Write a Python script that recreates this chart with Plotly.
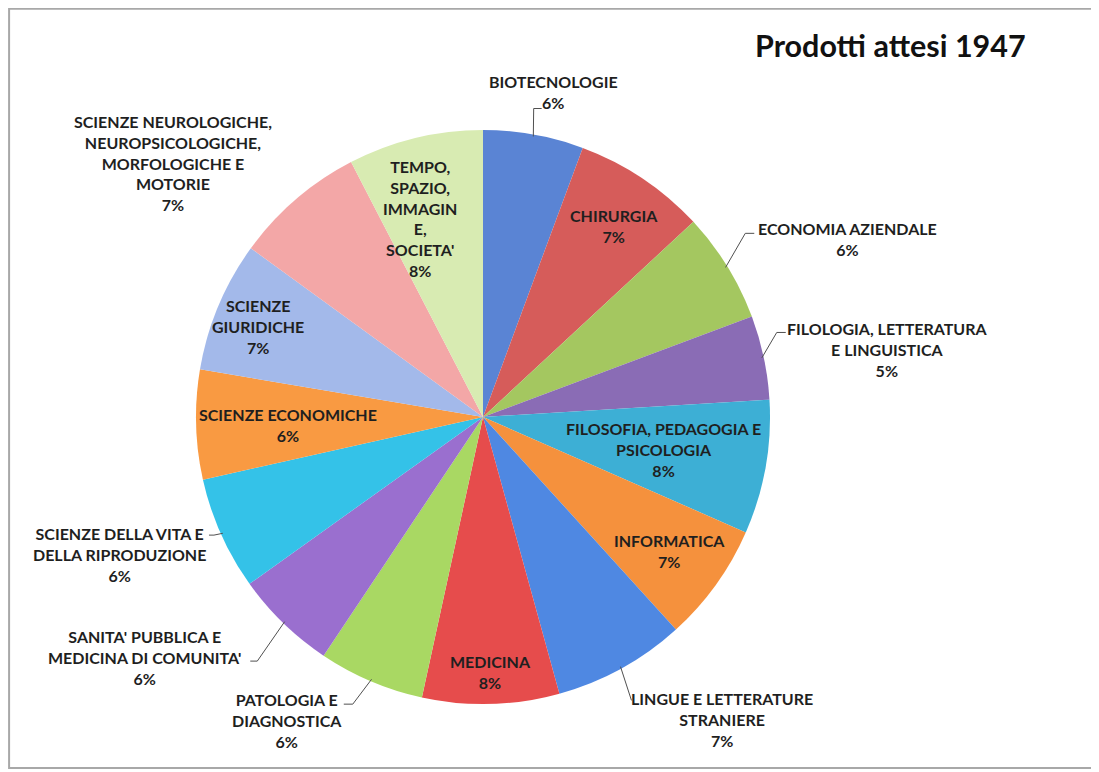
import math
import plotly.graph_objects as go

# ---- data ----
categories = [
    "BIOTECNOLOGIE", "CHIRURGIA", "ECONOMIA AZIENDALE",
    "FILOLOGIA, LETTERATURA E LINGUISTICA", "FILOSOFIA, PEDAGOGIA E PSICOLOGIA",
    "INFORMATICA", "LINGUE E LETTERATURE STRANIERE", "MEDICINA",
    "PATOLOGIA E DIAGNOSTICA", "SANITA' PUBBLICA E MEDICINA DI COMUNITA'",
    "SCIENZE DELLA VITA E DELLA RIPRODUZIONE", "SCIENZE ECONOMICHE",
    "SCIENZE GIURIDICHE", "SCIENZE NEUROLOGICHE, NEUROPSICOLOGICHE, MORFOLOGICHE E MOTORIE",
    "TEMPO, SPAZIO, IMMAGINE, SOCIETA'",
]
values = [110, 145, 121, 92, 147, 130, 145, 150, 116, 112, 124, 120, 143, 144, 148]
wrapped_labels = [
    "BIOTECNOLOGIE", "CHIRURGIA", "ECONOMIA AZIENDALE",
    "FILOLOGIA, LETTERATURA<br>E LINGUISTICA", "FILOSOFIA, PEDAGOGIA E<br>PSICOLOGIA",
    "INFORMATICA", "LINGUE E LETTERATURE<br>STRANIERE", "MEDICINA",
    "PATOLOGIA E<br>DIAGNOSTICA", "SANITA' PUBBLICA E<br>MEDICINA DI COMUNITA'",
    "SCIENZE DELLA VITA E<br>DELLA RIPRODUZIONE", "SCIENZE ECONOMICHE",
    "SCIENZE<br>GIURIDICHE", "SCIENZE NEUROLOGICHE,<br>NEUROPSICOLOGICHE,<br>MORFOLOGICHE E<br>MOTORIE",
    "TEMPO,<br>SPAZIO,<br>IMMAGIN<br>E,<br>SOCIETA'",
]
title_text = "Prodotti attesi 1947"

# ---- style ----
colors = ["#5A84D4", "#D65C5A", "#A4C760", "#8A6CB5", "#3DAFD5", "#F5913D",
          "#4F88E2", "#E64C4C", "#A9D863", "#9A6FCF", "#34C2E8", "#F99A42",
          "#A3B9EA", "#F3A7A7", "#D8EBB2"]
# label placement:
#   ("in", radius factor, dx, dy)
#   ("out", text dx, text dy, leader) with leader = (elbow dx, elbow dy, tick length) or None
placement = [
    ("out", 20, -43, (0, -26, 8)), ("in", 0.81, 2, 2), ("out", 120, -27, (18, -33, 9)),
    ("out", 124, -8, (13, -25, 9)), ("in", 0.64, 0, 0), ("in", 0.80, 0, 0),
    ("out", 101, 51, (10, 32, 0)), ("in", 0.89, 0, 0), ("out", -84, 39, (-18, 23, -9)),
    ("out", -138, 34, (-26, 38, -7)), ("out", -101, 20, (-7, 1, -5)), ("in", 0.68, 0, 3),
    ("in", 0.85, 0, 4), ("out", -123, -36, None), ("in", 0.72, -14, 2),
]

OFF = 8                      # page body margin
W, H = 1099 - OFF, 772 - OFF
CX, CY, R = 483 - OFF, 417 - OFF, 287  # pie centre/radius in figure px
font_family = "Lato, 'Open Sans', sans-serif"
text_color = "#1f1f1f"
leader_color = "#505050"


def px2paper(x, y):
    return x / W, 1 - y / H


fig = go.Figure(go.Pie(
    labels=categories, values=values, sort=False, direction="clockwise",
    rotation=0, marker=dict(colors=colors, line=dict(width=0)),
    textinfo="none", hoverinfo="label+percent", showlegend=False,
    domain=dict(x=[(CX - R) / W, (CX + R) / W], y=[1 - (CY + R) / H, 1 - (CY - R) / H]),
))

total = sum(values)
cum = 0
annotations = []
shapes = []
for lab, v, pl in zip(wrapped_labels, values, placement):
    mid = (cum + v / 2) / total * 2 * math.pi
    cum += v
    pct = round(v / total * 100)
    text = f"<b>{lab}<br>{pct}%</b>"
    s, c = math.sin(mid), math.cos(mid)
    base = dict(xref="paper", yref="paper", text=text, align="center",
                xanchor="center", yanchor="middle", showarrow=False)
    if pl[0] == "in":
        x, y = px2paper(CX + pl[1] * R * s + pl[2], CY - pl[1] * R * c + pl[3])
        annotations.append(dict(base, x=x, y=y))
    else:
        ex, ey = CX + R * s, CY - R * c
        x, y = px2paper(ex, ey)
        annotations.append(dict(base, x=x, y=y, xshift=pl[1], yshift=-pl[2]))
        if pl[3] is not None:
            ex0, ey0 = CX + (R - 2) * s, CY - (R - 2) * c
            bx, by = ex + pl[3][0], ey + pl[3][1]
            tx_, ty_ = bx + pl[3][2], by
            pts = [px2paper(ex0, ey0), px2paper(bx, by), px2paper(tx_, ty_)]
            path = "M {:.5f} {:.5f} L {:.5f} {:.5f} L {:.5f} {:.5f}".format(
                pts[0][0], pts[0][1], pts[1][0], pts[1][1], pts[2][0], pts[2][1])
            shapes.append(dict(type="path", xref="paper", yref="paper", path=path,
                               line=dict(color=leader_color, width=1)))

tx, ty = px2paper(1028 - OFF, 45 - OFF)
annotations.append(dict(xref="paper", yref="paper", x=tx, y=ty, xanchor="right",
                        yanchor="middle", showarrow=False,
                        text="<b>" + title_text + "</b>",
                        font=dict(family=font_family, size=30.5, color="#111111")))

fx0, fy0 = px2paper(7 - OFF + 1, 5 - OFF + 1)
fx1, fy1 = px2paper(1097 - OFF, 768 - OFF)
shapes.append(dict(type="rect", xref="paper", yref="paper",
                   x0=max(fx0, 0.001), x1=fx1, y0=fy1, y1=min(fy0, 0.999),
                   line=dict(color="#A8A8A8", width=2)))

fig.update_layout(
    width=W, height=H, margin=dict(l=0, r=0, t=0, b=0),
    paper_bgcolor="white", plot_bgcolor="white",
    font=dict(family=font_family, size=16, color=text_color),
    annotations=annotations,
    shapes=shapes,
)

fig.write_html("out.html")
